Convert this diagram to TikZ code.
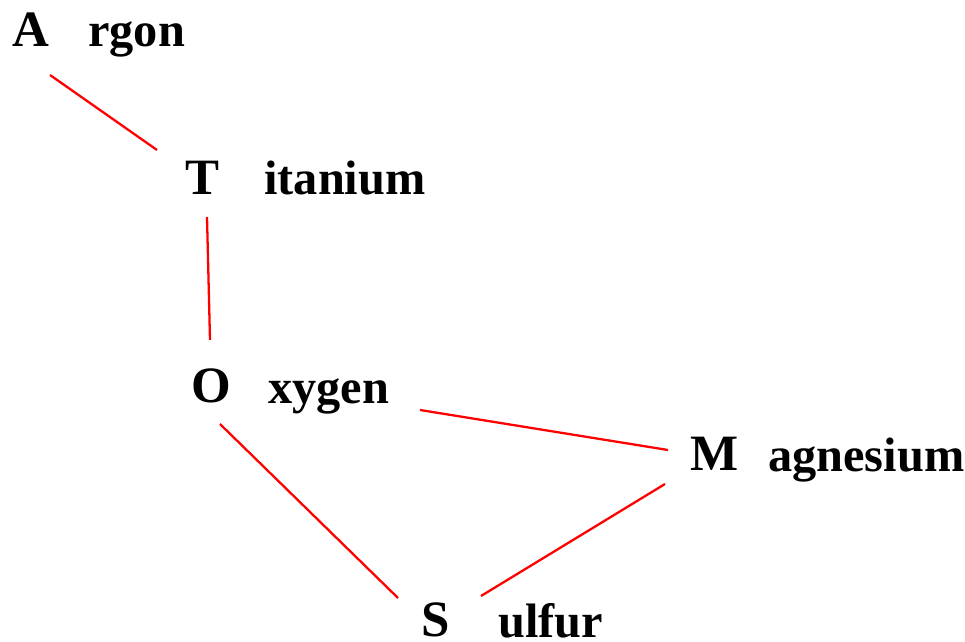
\documentclass[tikz,border=0pt]{standalone}
\usepackage{fontspec}
\setmainfont{Liberation Serif}
\usepackage{tikz}

\begin{document}
\begin{tikzpicture}[x=0.02cm,y=-0.02cm,
        initial/.style={inner sep=0pt,font=\fontsize{29}{32}\selectfont\bfseries},
        rest/.style={inner sep=0pt,anchor=base west,font=\fontsize{27.5}{32}\selectfont\bfseries},
        link/.style={red,line width=1.3pt}]
        \useasboundingbox (0,0) rectangle (965,642);
        \node[initial] (ar) at (31,30) {A};
        \node[rest] (arw) at (88,47) {rgon};
        \node[initial] (ti) at (202,178) {T};
        \node[rest] (tiw) at (264,195) {itanium};
        \node[initial] (ox) at (211,386) {O};
        \node[rest] (oxw) at (268,403) {xygen};
        \node[initial] (mg) at (715,454) {M};
        \node[rest] (mgw) at (768,471) {agnesium};
        \node[initial] (su) at (436,620) {S};
        \node[rest] (suw) at (498,637) {ulfur};
        \draw[link] ([shift={(19,45)}]ar.center) -- ([shift={(-45,-28)}]ti.center);
        \draw[link] ([shift={(5,39)}]ti.center) -- ([shift={(-1,-46)}]ox.center);
        \draw[link] ([shift={(209,24)}]ox.center) -- ([shift={(-47,-4)}]mg.center);
        \draw[link] ([shift={(9,38)}]ox.center) -- ([shift={(-38,-22)}]su.center);
        \draw[link] ([shift={(-50,30)}]mg.center) -- ([shift={(45,-24)}]su.center);
    \end{tikzpicture}
\end{document}
